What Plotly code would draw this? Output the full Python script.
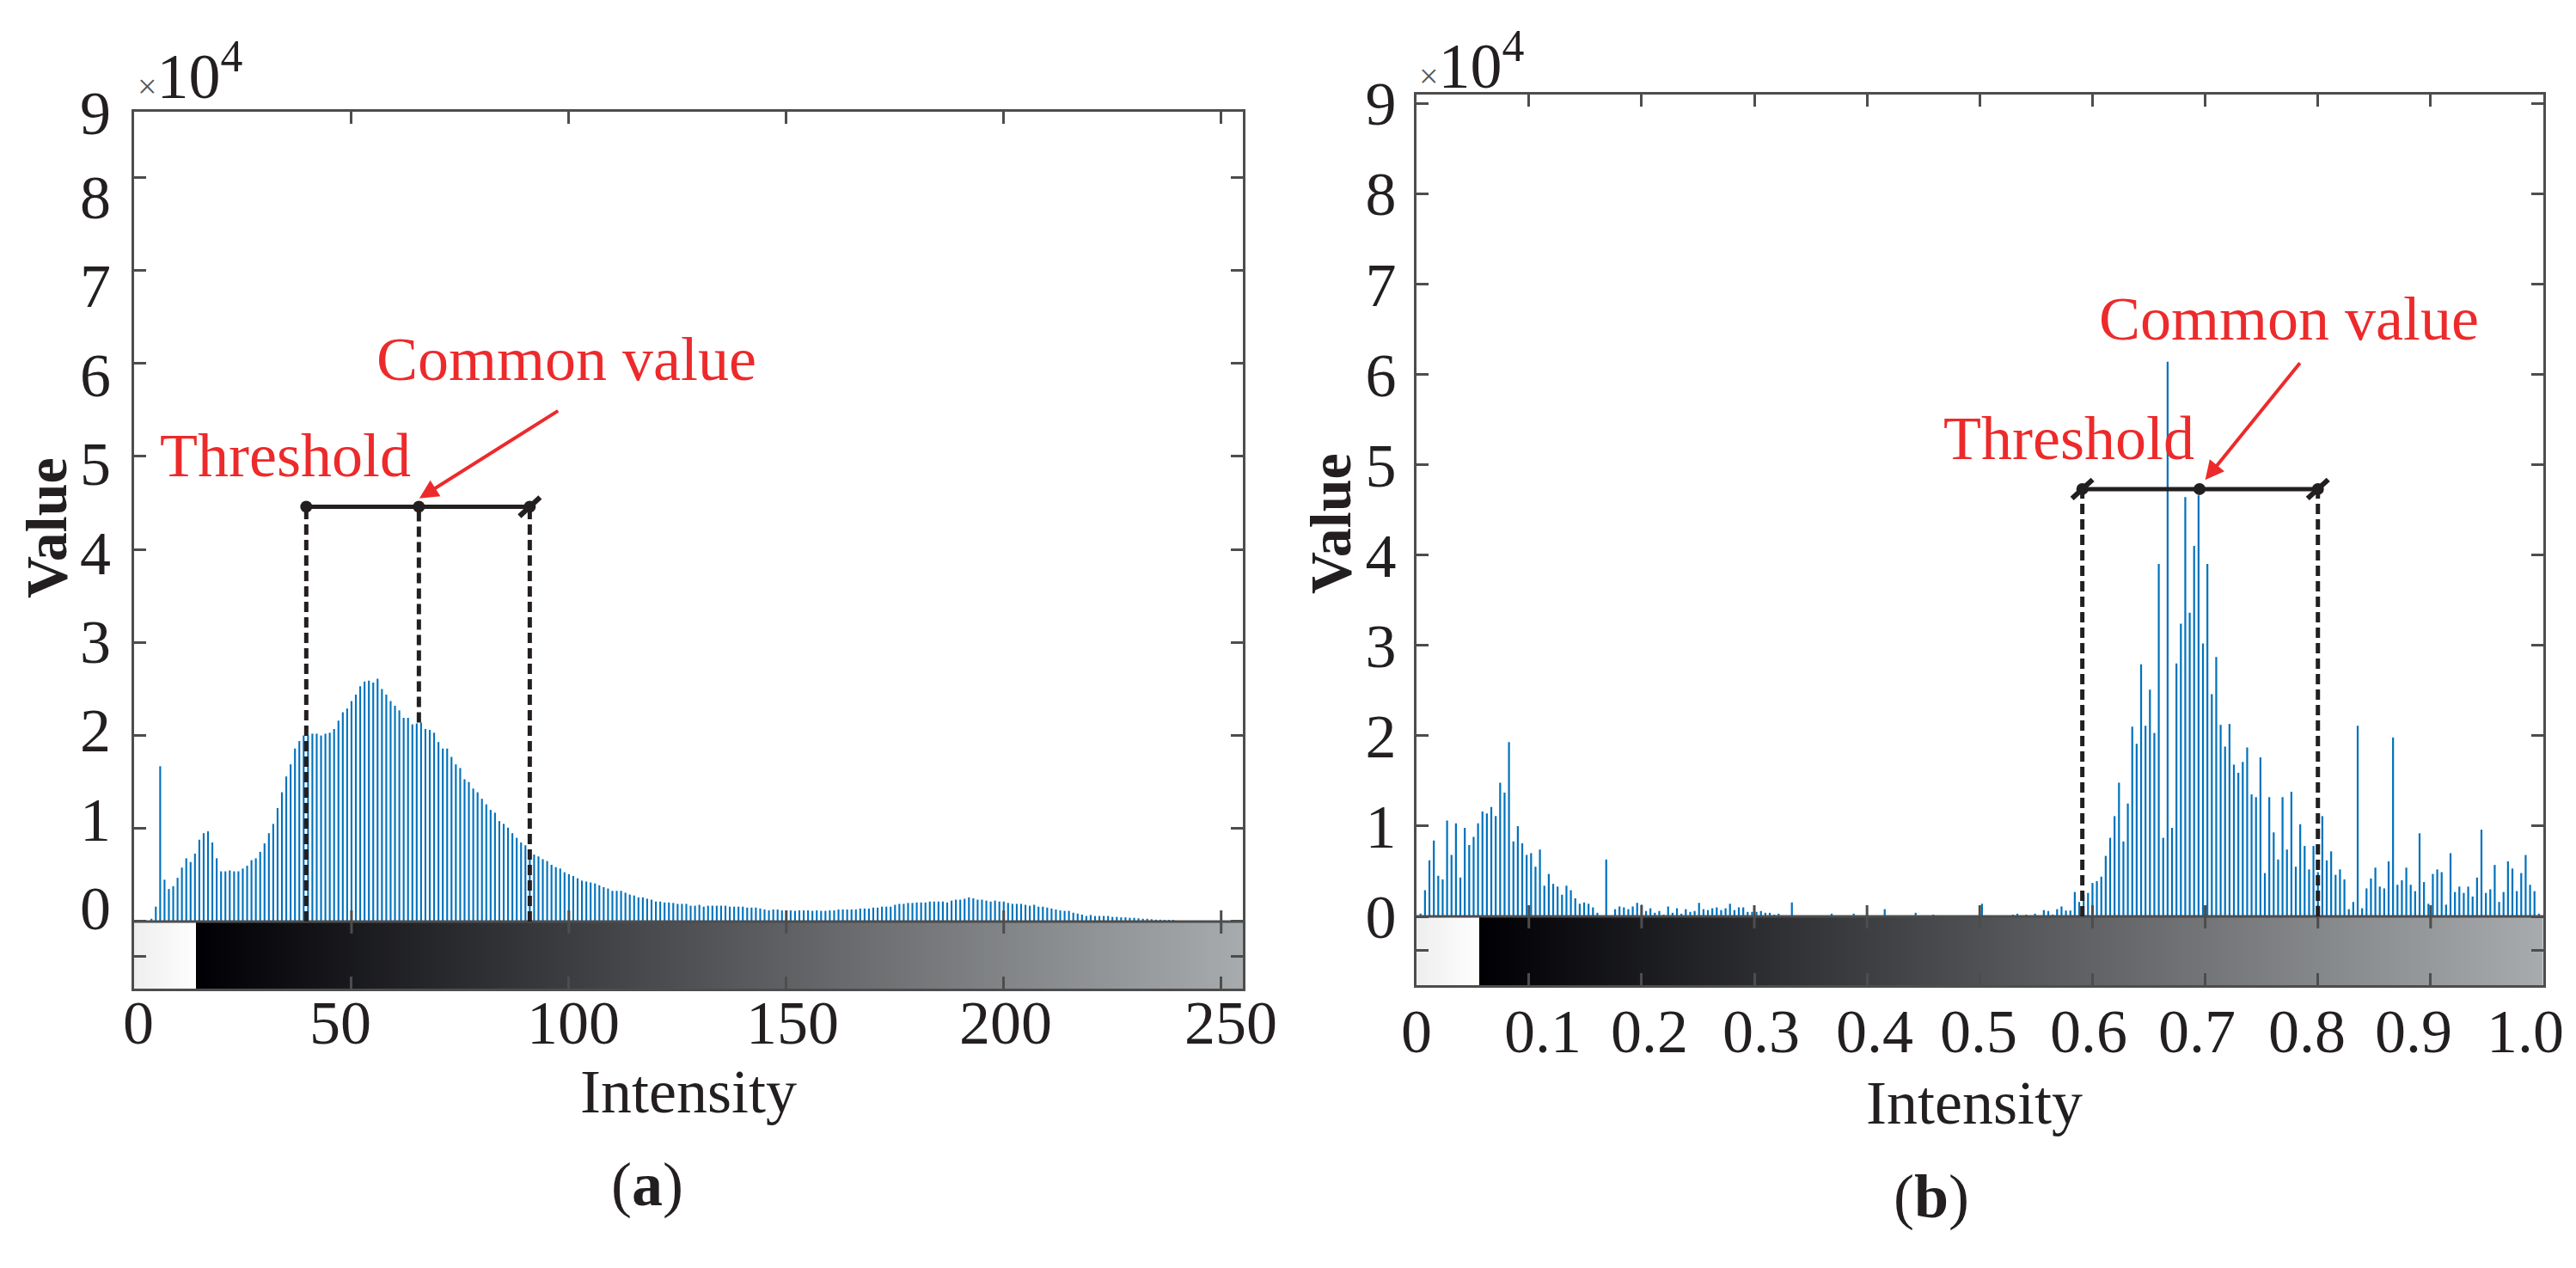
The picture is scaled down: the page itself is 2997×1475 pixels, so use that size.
import numpy as np
import plotly.graph_objects as go

W, H = 2997, 1475

# ---------------- data (values in units of 10^4 counts) ----------------
left_bins = list(range(256))
left_values = (
    [0, 0, 0, 0, 0.03, 0.16, 1.67, 0.45, 0.35, 0.38,
     0.47, 0.58, 0.68, 0.64, 0.73, 0.88, 0.95, 0.97, 0.85, 0.68,
     0.54, 0.54, 0.55, 0.54, 0.54, 0.57, 0.60, 0.66, 0.68, 0.75,
     0.84, 0.95, 1.05, 1.22, 1.39, 1.56, 1.69, 1.86, 1.94, 2.00,
     2.00, 2.02, 2.02, 2.00, 2.02, 2.03, 2.07, 2.16, 2.25, 2.29,
     2.37, 2.44, 2.53, 2.58, 2.59, 2.57, 2.61, 2.50, 2.44, 2.37,
     2.32, 2.27, 2.19, 2.19, 2.12, 2.13, 2.14, 2.07, 2.06, 2.03,
     1.93, 1.86, 1.86, 1.77, 1.69, 1.65, 1.53, 1.50, 1.43, 1.39,
     1.32, 1.26, 1.20, 1.17, 1.08, 1.05, 1.01, 0.95, 0.90, 0.85,
     0.82, 0.77]
    + [0.72, 0.70, 0.67, 0.65, 0.61, 0.585, 0.57, 0.53, 0.51, 0.49,
       0.465, 0.44, 0.43, 0.42, 0.41, 0.39, 0.37, 0.355, 0.33, 0.33,
       0.33, 0.31, 0.29, 0.28, 0.26, 0.26, 0.245, 0.235, 0.215, 0.215,
       0.205, 0.205, 0.20, 0.19, 0.19, 0.19, 0.17, 0.17, 0.18, 0.16,
       0.17, 0.17, 0.17, 0.17, 0.17, 0.16, 0.16, 0.16, 0.16, 0.15,
       0.15, 0.15, 0.14, 0.13, 0.12, 0.13, 0.13, 0.12, 0.12, 0.12,
       0.115, 0.12, 0.12, 0.12, 0.115, 0.12, 0.115, 0.115, 0.12, 0.12,
       0.13, 0.13, 0.13, 0.13, 0.13, 0.14, 0.14, 0.14, 0.15, 0.15,
       0.16, 0.16, 0.16, 0.18, 0.19, 0.19, 0.20, 0.20, 0.205, 0.205,
       0.205, 0.215, 0.215, 0.215, 0.215, 0.205, 0.225, 0.235, 0.235, 0.245,
       0.26, 0.25, 0.235, 0.235, 0.225, 0.215, 0.225, 0.215, 0.215, 0.20,
       0.19, 0.19, 0.19, 0.18, 0.17, 0.18, 0.16, 0.16, 0.15, 0.14,
       0.13, 0.12, 0.115, 0.115, 0.095, 0.085, 0.075, 0.06, 0.07, 0.06,
       0.06, 0.06, 0.06, 0.05]
    + [0.05, 0.045, 0.045, 0.04, 0.04, 0.035, 0.03, 0.03, 0.025, 0.02,
       0.02, 0.015, 0.01, 0.01, 0.005, 0.005]
    + [0] * 14
)

right_bins = list(range(256))
right_values = (
    [0, 0.03, 0.29, 0.62, 0.84, 0.45, 0.41, 1.06, 0.68, 1.03,
     0.43, 0.98, 0.79, 0.88, 1.03, 1.16, 1.14, 1.21, 1.11, 1.48,
     1.37, 1.93, 0.83, 1.00, 0.81, 0.68, 0.70, 0.55, 0.74, 0.34,
     0.47, 0.36, 0.33, 0.24, 0.34, 0.29, 0.20, 0.14, 0.155, 0.14,
     0.10, 0.04, 0, 0.63, 0.01, 0.08, 0.11, 0.10, 0.08, 0.11,
     0.15, 0.13, 0.06, 0.09, 0.04, 0.06, 0.02, 0.11, 0.04, 0.09,
     0.03, 0.08, 0.05, 0.06, 0.15, 0.08, 0.07, 0.09, 0.10, 0.07,
     0.09, 0.14, 0.07, 0.10, 0.10, 0.05, 0.05, 0.05, 0.06, 0.04,
     0.04, 0.02, 0.03, 0.01, 0, 0.155, 0, 0, 0, 0.01,
     0.01, 0, 0.01, 0, 0.03, 0, 0.01, 0, 0, 0.03,
     0, 0, 0, 0, 0, 0, 0.08, 0, 0, 0,
     0, 0, 0, 0.04, 0, 0, 0, 0.02, 0, 0.01,
     0.01, 0, 0, 0.01, 0, 0, 0, 0, 0.14, 0,
     0, 0, 0, 0, 0.01, 0.02, 0.03, 0.01, 0.02, 0.01,
     0.03, 0.01, 0.07, 0.06, 0.02, 0.08, 0.11, 0.065, 0.065, 0.27,
     0.16, 0.24, 0.26, 0.37, 0.39, 0.44, 0.67, 0.87, 1.11, 1.48,
     0.83, 1.25, 2.10, 1.91, 2.79, 2.11, 2.51, 2.03, 3.90, 0.87,
     6.14, 0.98, 2.80, 3.24, 4.64, 3.36, 4.10, 4.66, 3.02, 3.90,
     2.46, 2.87, 2.12, 1.88, 2.13, 1.68, 1.59, 1.71, 1.87, 1.35,
     1.32, 1.76, 0.48, 1.32, 0.93, 0.63, 1.32, 0.74, 1.38, 0.55,
     1.02, 0.78, 0.52, 0.78, 0.49, 1.11, 0.62, 0.72, 0.46, 0.52,
     0.41, 0.08, 0.16, 2.11, 0.09, 0.31, 0.42, 0.54, 0.33, 0.31,
     0.61, 1.98, 0.35, 0.40, 0.54, 0.35, 0.28, 0.92, 0.38, 0.14,
     0.47, 0.52, 0.49, 0.13, 0.70, 0.27, 0.33, 0.26, 0.33, 0.22,
     0.43, 0.96, 0.26, 0.30, 0.57, 0.16, 0.27, 0.61, 0.53, 0.28,
     0.48, 0.68, 0.35, 0.28, 0.03, 0]
)

left_xticks = [0, 50, 100, 150, 200, 250]
left_xtick_text = ["0", "50", "100", "150", "200", "250"]
right_xticks = [0, 0.1, 0.2, 0.3, 0.4, 0.5, 0.6, 0.7, 0.8, 0.9, 1.0]
right_xtick_text = ["0", "0.1", "0.2", "0.3", "0.4", "0.5", "0.6", "0.7", "0.8", "0.9", "1.0"]
ytick_vals = [0, 1, 2, 3, 4, 5, 6, 7, 8, 9]
ytick_text = ["0", "1", "2", "3", "4", "5", "6", "7", "8", "9"]

# threshold / common value markers
left_thr = {"lo": 39.6, "mid": 65.5, "hi": 91.0, "level": 4.46}
right_thr = {"lo": 0.591, "mid": 0.695, "hi": 0.800, "level": 4.73}

# ---------------- styling ----------------
FONT = "Liberation Serif"
TXT = "#231f20"
AX = "#4d4d4d"
BLUE = "#0072BD"
RED = "#ED2A2B"
BLK = "#231f20"
FS = 72

def px_x(p):
    return p / W

def px_y(p):
    return 1 - p / H

# panel geometry (pixels)
L = dict(x0=148, x1=1438, ytop=122, ybot=1142, xr=[0, 255], yr=[-0.721, 8.706], cb=-0.37)
R = dict(x0=1639.6, x1=2951, ytop=102, ybot=1138, xr=[0, 1.0], yr=[-0.761, 9.096], cb=-0.38)

fig = go.Figure()

# gray-level strips under the histograms
def strip(xr, yb, xa, ya):
    edges = np.linspace(xr[0], xr[1], 1021)
    centers = (edges[:-1] + edges[1:]) / 2
    f = (14.2 / 255)
    cs = [[0, "rgb(238,238,238)"], [f, "rgb(254,254,254)"], [f, "rgb(0,0,4)"], [1, "rgb(168,171,173)"]]
    fig.add_trace(go.Heatmap(x=edges, y=[yb, 0], z=[list(centers)], colorscale=cs,
                             zmin=xr[0], zmax=xr[1], showscale=False, hoverinfo="skip",
                             xaxis=xa, yaxis=ya))

strip(L["xr"], L["yr"][0], "x", "y")
strip(R["xr"], R["yr"][0], "x2", "y2")

fig.add_trace(go.Bar(x=left_bins, y=left_values, width=0.42, marker=dict(color=BLUE, line=dict(width=0)),
                     xaxis="x", yaxis="y", showlegend=False))
fig.add_trace(go.Bar(x=[b / 255 for b in right_bins], y=right_values, width=0.43 / 255,
                     marker=dict(color=BLUE, line=dict(width=0)), xaxis="x2", yaxis="y2", showlegend=False))

base_axis = dict(showgrid=False, zeroline=False, showline=True, linecolor=AX, linewidth=3,
                 ticks="inside", ticklen=14, tickwidth=3, tickcolor=AX, mirror="ticks", automargin=False,
                 showticklabels=False)
lab_axis = dict(showgrid=False, zeroline=False, showline=False, ticks="", automargin=False,
                tickfont=dict(family=FONT, size=FS, color=TXT))

# label positions as measured on the original figure (pixels)
left_xlab_px = [153, 388, 659, 914, 1162, 1424]
right_xlab_px = [1640, 1787, 1911, 2041, 2173, 2294, 2422, 2548, 2676, 2800, 2930]
left_ylab_px = [1048 - 103.4 * k for k in range(10)]

def xval(P, p):
    return P["xr"][0] + (p - P["x0"]) / (P["x1"] - P["x0"]) * (P["xr"][1] - P["xr"][0])

def yval(P, p):
    return P["yr"][0] + (P["ybot"] - p) / (P["ybot"] - P["ytop"]) * (P["yr"][1] - P["yr"][0])

left_ylab_vals = [min(yval(L, p), L["yr"][1] - 0.01) for p in left_ylab_px]

fig.update_layout(
    width=W, height=H, margin=dict(l=0, r=0, t=0, b=0, pad=0, autoexpand=False),
    paper_bgcolor="white", plot_bgcolor="white", showlegend=False, barmode="overlay",
    font=dict(family=FONT, color=TXT),
    xaxis=dict(base_axis, domain=[px_x(L["x0"]), px_x(L["x1"])], range=L["xr"], anchor="y",
               tickvals=left_xticks),
    yaxis=dict(base_axis, domain=[px_y(L["ybot"]), px_y(L["ytop"])], range=L["yr"], anchor="x",
               tickvals=[L["cb"]] + ytick_vals[:9]),
    xaxis3=dict(lab_axis, overlaying="x", anchor="y", side="bottom", range=L["xr"],
                tickvals=[xval(L, p) for p in left_xlab_px], ticktext=left_xtick_text, ticklabelstandoff=-9),
    yaxis3=dict(lab_axis, overlaying="y", anchor="x", side="left", range=L["yr"],
                tickvals=left_ylab_vals, ticktext=ytick_text, ticklabelstandoff=26),
    xaxis2=dict(base_axis, domain=[px_x(R["x0"]), px_x(R["x1"])], range=R["xr"], anchor="y2",
                tickvals=right_xticks),
    yaxis2=dict(base_axis, domain=[px_y(R["ybot"]), px_y(R["ytop"])], range=R["yr"], anchor="x2",
                tickvals=[R["cb"]] + ytick_vals),
    xaxis4=dict(lab_axis, overlaying="x2", anchor="y2", side="bottom", range=R["xr"],
                tickvals=[max(xval(R, p), 0.0) for p in right_xlab_px], ticktext=right_xtick_text,
                ticklabelstandoff=5),
    yaxis4=dict(lab_axis, overlaying="y2", anchor="x2", side="left", range=R["yr"],
                tickvals=ytick_vals, ticktext=ytick_text, ticklabelstandoff=22),
)

# invisible traces so the label axes are drawn
fig.add_trace(go.Scatter(x=[None], y=[None], xaxis="x3", yaxis="y3", showlegend=False, hoverinfo="skip"))
fig.add_trace(go.Scatter(x=[None], y=[None], xaxis="x4", yaxis="y4", showlegend=False, hoverinfo="skip"))

shapes = []
# separator line between histogram and gray strip + crossing ticks
for xa, ya, P, ticks in (("x", "y", L, left_xticks[1:]), ("x2", "y2", R, right_xticks[1:-1])):
    shapes.append(dict(type="line", xref=xa, yref=ya, x0=P["xr"][0], x1=P["xr"][1], y0=0, y1=0,
                       line=dict(color=AX, width=3), layer="above"))
    for t in ticks:
        shapes.append(dict(type="line", xref=xa, yref=ya, x0=t, x1=t, ysizemode="pixel", yanchor=0,
                           y0=-14, y1=13, line=dict(color=AX, width=3), layer="above"))

def threshold(xa, ya, thr, mid_top, slash_lo):
    lv = thr["level"]
    shapes.append(dict(type="line", xref=xa, yref=ya, x0=thr["lo"], x1=thr["hi"], y0=lv, y1=lv,
                       line=dict(color=BLK, width=5), layer="above"))
    dash = dict(color=BLK, width=5, dash="12px,6px")
    shapes.append(dict(type="line", xref=xa, yref=ya, x0=thr["lo"], x1=thr["lo"], y0=0, y1=lv, line=dash, layer="above"))
    shapes.append(dict(type="line", xref=xa, yref=ya, x0=thr["hi"], x1=thr["hi"], y0=0, y1=lv, line=dash, layer="above"))
    if mid_top is not None:
        shapes.append(dict(type="line", xref=xa, yref=ya, x0=thr["mid"], x1=thr["mid"], y0=mid_top, y1=lv,
                           line=dash, layer="above"))
    ends = ["hi"] + (["lo"] if slash_lo else [])
    for e in ends:
        shapes.append(dict(type="line", xref=xa, yref=ya, xsizemode="pixel", ysizemode="pixel",
                           xanchor=thr[e], yanchor=lv, x0=-12, x1=12, y0=-11, y1=11,
                           line=dict(color=BLK, width=6), layer="above"))
    fig.add_trace(go.Scatter(x=[thr["lo"], thr["mid"], thr["hi"]], y=[lv, lv, lv], mode="markers",
                             marker=dict(color=BLK, size=14), xaxis=xa, yaxis=ya, showlegend=False,
                             hoverinfo="skip"))

threshold("x", "y", left_thr, left_values[int(round(left_thr["mid"]))], False)
threshold("x2", "y2", right_thr, None, True)

fig.update_layout(shapes=shapes)

ann = []
# red labels and arrows
for xa, ya, cv, th, arr in (
    ("x", "y", (99.4, 6.04), (34.8, 5.01), ((97.8, 5.50), (65.6, 4.55))),
    ("x2", "y2", (0.774, 6.61), (0.579, 5.29), ((0.785, 6.14), (0.700, 4.83))),
):
    ann.append(dict(xref=xa, yref=ya, x=cv[0], y=cv[1], text="Common value", showarrow=False,
                    xanchor="center", yanchor="middle", font=dict(family=FONT, size=FS, color=RED)))
    ann.append(dict(xref=xa, yref=ya, x=th[0], y=th[1], text="Threshold", showarrow=False,
                    xanchor="center", yanchor="middle", font=dict(family=FONT, size=FS, color=RED)))
    ann.append(dict(xref=xa, yref=ya, axref=xa, ayref=ya, x=arr[1][0], y=arr[1][1], ax=arr[0][0], ay=arr[0][1],
                    text="", showarrow=True, arrowhead=2, arrowsize=1.1, arrowwidth=4, arrowcolor=RED, standoff=0))

# exponent labels
expo = "<span style='font-size:40px;color:#595959'>×</span>10<sup>4</sup>"
ann.append(dict(xref="paper", yref="paper", x=px_x(150), y=px_y(124), xanchor="left", yanchor="bottom",
                text=expo, showarrow=False, font=dict(family=FONT, size=74, color=TXT)))
ann.append(dict(xref="paper", yref="paper", x=px_x(1641), y=px_y(112), xanchor="left", yanchor="bottom",
                text=expo, showarrow=False, font=dict(family=FONT, size=74, color=TXT)))

# axis titles and panel letters
for x, y in ((46, 606), (1540, 601)):
    ann.append(dict(xref="paper", yref="paper", x=px_x(x), y=px_y(y), text="<b>Value</b>", textangle=-90,
                    xanchor="center", yanchor="middle",
                    showarrow=False, font=dict(family=FONT, size=68, color=TXT)))
for x, y in ((793, 1262), (2289, 1275)):
    ann.append(dict(xref="paper", yref="paper", x=px_x(x), y=px_y(y), text="Intensity",
                    xanchor="center", yanchor="middle",
                    showarrow=False, font=dict(family=FONT, size=FS, color=TXT)))
for x, y, t in ((745, 1370, "(<b>a</b>)"), (2239, 1384, "(<b>b</b>)")):
    ann.append(dict(xref="paper", yref="paper", x=px_x(x), y=px_y(y), text=t,
                    xanchor="center", yanchor="middle",
                    showarrow=False, font=dict(family=FONT, size=FS, color=TXT)))

fig.update_layout(annotations=ann)
fig.write_html("out.html")
